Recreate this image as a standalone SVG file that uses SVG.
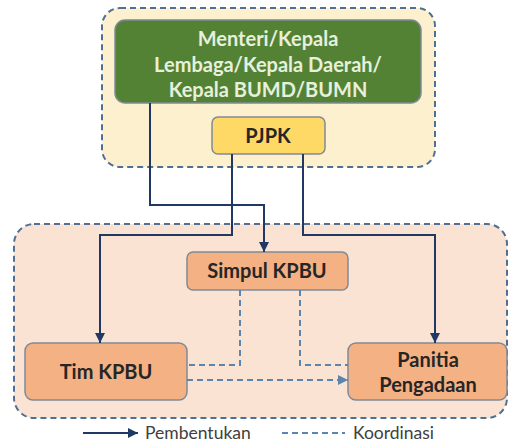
<svg xmlns="http://www.w3.org/2000/svg" width="510" height="444" viewBox="0 0 510 444">
<defs>
<style>
.cont{stroke:#4f6f94;stroke-width:2;stroke-dasharray:6 4;}
.box{stroke:#7f8a96;stroke-width:1.5;}
.orange{fill:#f4b183;}
.t{font-family:Lato,"Open Sans",sans-serif;font-weight:bold;font-size:20px;fill:#262626;text-anchor:middle;}
.tg{fill:#e6f0dc;}
.solid{fill:none;stroke:#1f3864;stroke-width:2;}
.dash{fill:none;stroke:#5b84ae;stroke-width:2;stroke-dasharray:6 4;}
.leg{font-family:Lato,"Open Sans",sans-serif;font-size:17.5px;fill:#404040;}
</style>
<marker id="ah" markerUnits="userSpaceOnUse" markerWidth="12" markerHeight="12" refX="10" refY="5" orient="auto">
<path d="M0,0 L10,5 L0,10 Z" fill="#1f3864"/>
</marker>
<marker id="ahd" markerUnits="userSpaceOnUse" markerWidth="12" markerHeight="12" refX="10" refY="5" orient="auto">
<path d="M0,0 L10,5 L0,10 Z" fill="#5b84ae"/>
</marker>
</defs>
<rect x="0" y="0" width="510" height="444" fill="#ffffff"/>
<g id="top-group">
<rect class="cont" x="102" y="8" width="333" height="159" rx="18" fill="#fdf0cf"/>
</g>
<g id="bottom-group">
<rect class="cont" x="14" y="224" width="493" height="194" rx="20" fill="#fbe3d4"/>
</g>
<g id="menteri">
<rect class="box" x="115" y="20" width="306" height="83" rx="10" fill="#548235" stroke="#4a6b35"/>
<text class="t tg" x="268" y="46">Menteri/Kepala</text>
<text class="t tg" x="268" y="72">Lembaga/Kepala Daerah/</text>
<text class="t tg" x="268" y="97">Kepala BUMD/BUMN</text>
</g>
<g id="pjpk">
<rect class="box" x="212" y="117" width="113" height="37" rx="6" fill="#ffd966"/>
<text class="t" x="268" y="143">PJPK</text>
</g>
<g id="simpul">
<rect class="box orange" x="187" y="252" width="161" height="38" rx="6"/>
<text class="t" x="267" y="278">Simpul KPBU</text>
</g>
<g id="tim">
<rect class="box orange" x="25" y="343" width="162" height="57" rx="8"/>
<text class="t" x="106" y="379">Tim KPBU</text>
</g>
<g id="panitia">
<rect class="box orange" x="348" y="343" width="159" height="57" rx="8"/>
<text class="t" x="428" y="367">Panitia</text>
<text class="t" x="428" y="392">Pengadaan</text>
</g>
<g id="connectors">
<path class="solid" d="M150,103 V205 H264 V252" marker-end="url(#ah)"/>
<path class="solid" d="M232,154 V235 H100 V343" marker-end="url(#ah)"/>
<path class="solid" d="M303,154 V235 H435 V343" marker-end="url(#ah)"/>
<path class="dash" d="M240,290 V365 H187"/>
<path class="dash" d="M300,290 V365 H348"/>
<path class="dash" d="M187,380 H348" marker-end="url(#ahd)"/>
</g>
<g id="legend">
<path class="solid" d="M83,433 H138" marker-end="url(#ah)"/>
<text class="leg" x="145" y="439">Pembentukan</text>
<path class="dash" d="M282,433 H345"/>
<text class="leg" x="353" y="439">Koordinasi</text>
</g>
</svg>
